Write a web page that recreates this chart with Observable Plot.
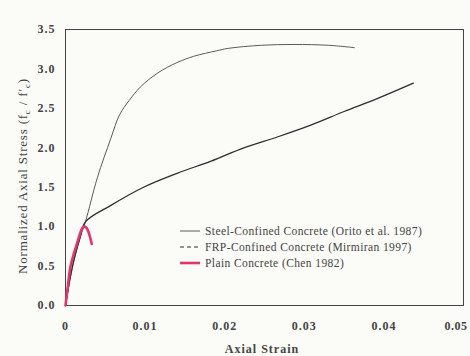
<!DOCTYPE html>
<html>
<head>
<meta charset="utf-8">
<script src="https://cdn.jsdelivr.net/npm/d3@7"></script>
<script src="https://cdn.jsdelivr.net/npm/@observablehq/plot@0.6"></script>
<style>
  html, body { margin: 0; padding: 0; background: #fbfbf7; }
  #chart svg { display: block; }
</style>
</head>
<body>
<div id="chart"></div>
<script>
// ---- data ----
const steelStrain = [0, 0.0005, 0.0010, 0.0018, 0.0025, 0.0040, 0.0057, 0.0068, 0.0080, 0.0094, 0.0116, 0.0140, 0.0161, 0.0190, 0.0204, 0.0246, 0.0287, 0.0330, 0.0363];
const steelStress = [0, 0.30, 0.55, 0.85, 1.06, 1.62, 2.12, 2.42, 2.60, 2.77, 2.95, 3.08, 3.16, 3.23, 3.26, 3.30, 3.31, 3.30, 3.27];

const frpStrain = [0, 0.0005, 0.0010, 0.0018, 0.0025, 0.0057, 0.0098, 0.0141, 0.0183, 0.0224, 0.0267, 0.0309, 0.0350, 0.0393, 0.0437];
const frpStress = [0, 0.30, 0.55, 0.85, 1.06, 1.27, 1.50, 1.68, 1.83, 2.00, 2.14, 2.29, 2.46, 2.63, 2.82];

const plainStrain = [0, 0.0003, 0.0006, 0.0010, 0.0013, 0.0017, 0.0020, 0.0023, 0.0026, 0.0029, 0.0031, 0.0033];
const plainStress = [0, 0.25, 0.48, 0.64, 0.74, 0.87, 0.96, 1.00, 0.99, 0.93, 0.86, 0.78];

const xTicks = [0, 0.01, 0.02, 0.03, 0.04, 0.05];
const xTickLabels = ["0", "0.01", "0.02", "0.03", "0.04", "0.05"];
const yTicks = [0, 0.5, 1.0, 1.5, 2.0, 2.5, 3.0, 3.5];
const yTickLabels = ["0.0", "0.5", "1.0", "1.5", "2.0", "2.5", "3.0", "3.5"];

const seriesNames = ["Steel-Confined Concrete (Orito et al. 1987)", "FRP-Confined Concrete (Mirmiran 1997)", "Plain Concrete (Chen 1982)"];
const xLabel = "Axial Strain";

// ---- build tables ----
const toRows = (xs, ys) => xs.map((x, i) => ({x, y: ys[i]}));
const steel = toRows(steelStrain, steelStress);
const frp = toRows(frpStrain, frpStress);
const plain = toRows(plainStrain, plainStress);

const ink = "#3a3a3a";
const chart = Plot.plot({
  width: 470,
  height: 356,
  marginLeft: 65,
  marginRight: 7,
  marginTop: 29,
  marginBottom: 51,
  style: {background: "#fbfbf7", fontFamily: "'Liberation Serif', 'DejaVu Serif', serif", fontSize: "12px", color: ink},
  x: {domain: [0, 0.05], ticks: xTicks, tickFormat: (d) => xTickLabels[xTicks.indexOf(d)], tickSize: 0, tickPadding: 16, label: null},
  y: {domain: [0, 3.5], ticks: yTicks, tickFormat: (d) => yTickLabels[yTicks.indexOf(d)], tickSize: 0, tickPadding: 10, label: null},
  marks: [
    Plot.frame({stroke: "#444", strokeWidth: 1}),
    Plot.line(steel, {x: "x", y: "y", stroke: "#5a5a5a", strokeWidth: 1, curve: "catmull-rom"}),
    Plot.line(frp, {x: "x", y: "y", stroke: "#2e2e2e", strokeWidth: 1.3, curve: "catmull-rom"}),
    Plot.line(plain, {x: "x", y: "y", stroke: "#e2356d", strokeWidth: 2.6, curve: "catmull-rom"})
  ]
});

document.getElementById("chart").appendChild(chart);

const svg = d3.select(chart);
svg.selectAll('g[aria-label="x-axis tick label"] text, g[aria-label="y-axis tick label"] text')
  .style("font-weight", "bold").style("letter-spacing", "1px").attr("fill", "#444");
// keep the last x tick label inside the picture
svg.selectAll('g[aria-label="x-axis tick label"] text')
  .filter((d, i, nodes) => i === nodes.length - 1)
  .attr("text-anchor", "end").attr("dx", 4).style("letter-spacing", "0.5px");

// x axis label
svg.append("text")
  .attr("x", 262).attr("y", 353)
  .attr("text-anchor", "middle")
  .style("font-family", "'Liberation Serif', serif").style("font-size", "12px")
  .style("font-weight", "bold").style("letter-spacing", "1px")
  .attr("fill", "#444").text(xLabel);

// y axis label with subscripts
const yl = svg.append("text")
  .attr("transform", "translate(27,176) rotate(-90)")
  .attr("text-anchor", "middle")
  .style("font-family", "'Liberation Serif', serif").style("font-size", "13px")
  .style("letter-spacing", "0.8px")
  .attr("fill", "#444");
yl.append("tspan").text("Normalized Axial Stress (f");
yl.append("tspan").attr("dy", 3).style("font-size", "9px").text("c");
yl.append("tspan").attr("dy", -3).text(" / f\u2032");
yl.append("tspan").attr("dy", 3).style("font-size", "9px").text("c");
yl.append("tspan").attr("dy", -3).text(")");

// legend
const legStyles = [
  {stroke: "#5a5a5a", width: 1, dash: null},
  {stroke: "#2e2e2e", width: 1.2, dash: "4,3"},
  {stroke: "#e2356d", width: 2.6, dash: null}
];
const leg = svg.append("g").attr("transform", "translate(180,231)");
seriesNames.forEach((name, i) => {
  const g = leg.append("g").attr("transform", `translate(0,${i * 16})`);
  const s = legStyles[i];
  g.append("line").attr("x1", 0).attr("x2", 20).attr("y1", 0).attr("y2", 0)
    .attr("stroke", s.stroke).attr("stroke-width", s.width)
    .attr("stroke-dasharray", s.dash);
  g.append("text").attr("x", 25).attr("y", 0).attr("dy", "0.35em")
    .attr("text-anchor", "start")
    .style("font-family", "'Liberation Serif', serif").style("font-size", "11.5px")
    .style("letter-spacing", "0.4px")
    .attr("fill", "#444").text(name);
});
</script>
</body>
</html>
